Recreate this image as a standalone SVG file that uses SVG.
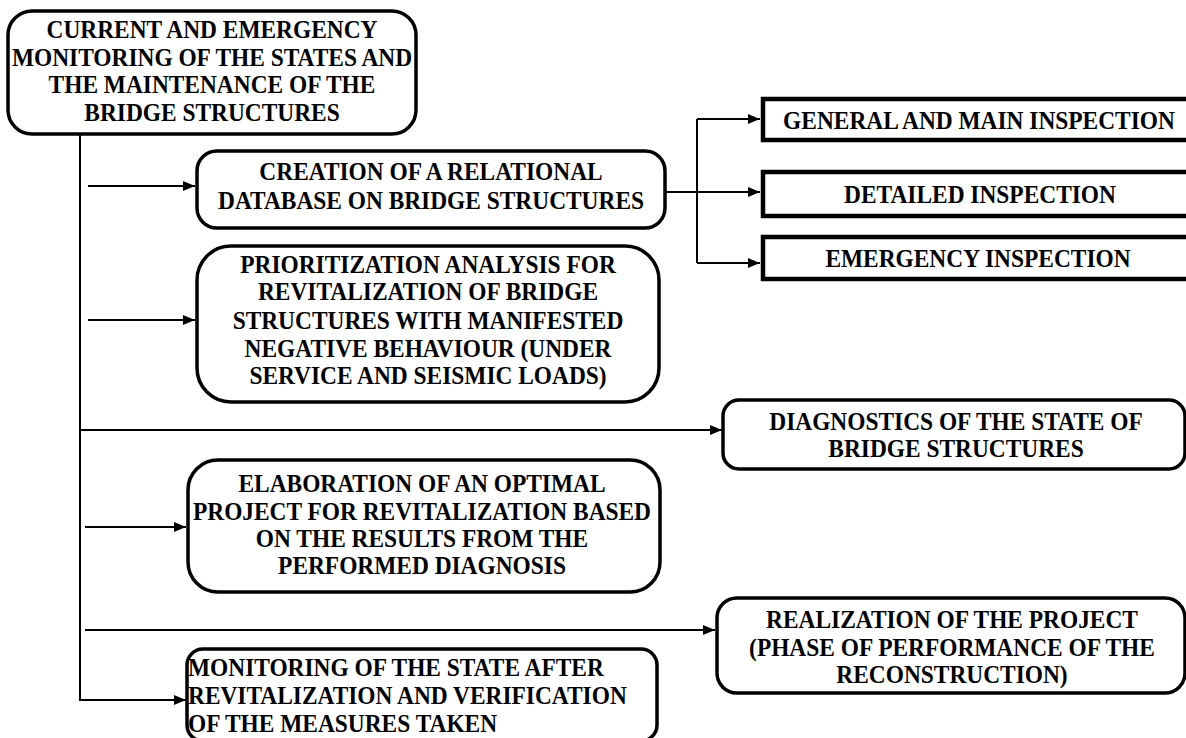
<svg xmlns="http://www.w3.org/2000/svg" width="1186" height="738" viewBox="0 0 1186 738">
<style>
.box{fill:#fff;stroke:#000;stroke-width:3.5}
.sq{fill:#fff;stroke:#000;stroke-width:4.5}
.t{font-family:"Liberation Serif","Times New Roman",serif;font-weight:bold;font-size:26px;fill:#000;text-anchor:middle;transform-box:fill-box;transform-origin:center;transform:scaleX(0.9)}
.tl{text-anchor:start;transform-origin:left center}
.c{fill:none;stroke:#000;stroke-width:2}
</style>
<defs>
<marker id="ah" viewBox="0 0 12 12" refX="12" refY="6" markerWidth="12" markerHeight="12" markerUnits="userSpaceOnUse" orient="auto">
<path d="M0,1 L12,6 L0,11 Z" fill="#000"/>
</marker>
</defs>
<g id="connectors">
<path class="c" d="M80,134 V700 H186" marker-end="url(#ah)"/>
<path class="c" d="M88,186 H195" marker-end="url(#ah)"/>
<path class="c" d="M88,320 H195" marker-end="url(#ah)"/>
<path class="c" d="M80,430 H722" marker-end="url(#ah)"/>
<path class="c" d="M85,527 H186" marker-end="url(#ah)"/>
<path class="c" d="M85,630 H715" marker-end="url(#ah)"/>
<path class="c" d="M665,192 H760" marker-end="url(#ah)"/>
<path class="c" d="M697,119 V263"/>
<path class="c" d="M697,119 H760" marker-end="url(#ah)"/>
<path class="c" d="M697,263 H760" marker-end="url(#ah)"/>
</g>
<g id="n1">
<rect class="box" x="8" y="11" width="408" height="123" rx="24"/>
<text class="t" x="212" y="38">CURRENT AND EMERGENCY</text>
<text class="t" x="212" y="66">MONITORING OF THE STATES AND</text>
<text class="t" x="212" y="93">THE MAINTENANCE OF THE</text>
<text class="t" x="212" y="121">BRIDGE STRUCTURES</text>
</g>
<g id="n2">
<rect class="box" x="197" y="151" width="468" height="77" rx="20"/>
<text class="t" x="431" y="180">CREATION OF A RELATIONAL</text>
<text class="t" x="431" y="209">DATABASE ON BRIDGE STRUCTURES</text>
</g>
<g id="n3">
<rect class="box" x="197" y="246" width="462" height="156" rx="34"/>
<text class="t" x="428" y="273">PRIORITIZATION ANALYSIS FOR</text>
<text class="t" x="428" y="300">REVITALIZATION OF BRIDGE</text>
<text class="t" x="428" y="329">STRUCTURES WITH MANIFESTED</text>
<text class="t" x="428" y="357">NEGATIVE BEHAVIOUR (UNDER</text>
<text class="t" x="428" y="384">SERVICE AND SEISMIC LOADS)</text>
</g>
<g id="n4">
<rect class="sq" x="763" y="99" width="432" height="41"/>
<text class="t" x="979" y="129">GENERAL AND MAIN INSPECTION</text>
</g>
<g id="n5">
<rect class="sq" x="763" y="172" width="432" height="44"/>
<text class="t" x="980" y="203">DETAILED INSPECTION</text>
</g>
<g id="n6">
<rect class="sq" x="763" y="237" width="432" height="42"/>
<text class="t" x="978" y="267">EMERGENCY INSPECTION</text>
</g>
<g id="n7">
<rect class="box" x="723" y="400" width="462" height="69" rx="16"/>
<text class="t" x="956" y="430">DIAGNOSTICS OF THE STATE OF</text>
<text class="t" x="956" y="457">BRIDGE STRUCTURES</text>
</g>
<g id="n8">
<rect class="box" x="188" y="460" width="472" height="132" rx="30"/>
<text class="t" x="422" y="492">ELABORATION OF AN OPTIMAL</text>
<text class="t" x="422" y="520">PROJECT FOR REVITALIZATION BASED</text>
<text class="t" x="422" y="547">ON THE RESULTS FROM THE</text>
<text class="t" x="422" y="574">PERFORMED DIAGNOSIS</text>
</g>
<g id="n9">
<rect class="box" x="717" y="598" width="468" height="95" rx="20"/>
<text class="t" x="952" y="628">REALIZATION OF THE PROJECT</text>
<text class="t" x="952" y="656">(PHASE OF PERFORMANCE OF THE</text>
<text class="t" x="952" y="683">RECONSTRUCTION)</text>
</g>
<g id="n10">
<rect class="box" x="187" y="649" width="470" height="92" rx="16"/>
<text class="t tl" x="188" y="676">MONITORING OF THE STATE AFTER</text>
<text class="t tl" x="188" y="704">REVITALIZATION AND VERIFICATION</text>
<text class="t tl" x="188" y="732">OF THE MEASURES TAKEN</text>
</g>
</svg>
